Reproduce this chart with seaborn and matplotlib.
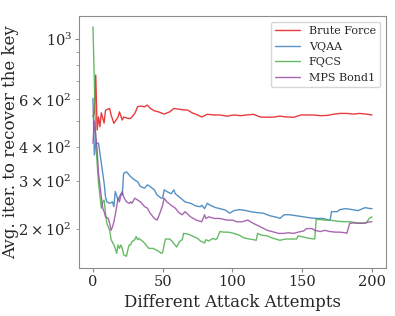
import pandas
import seaborn as sns
from matplotlib import pyplot as plt

# (attack attempt, avg iterations)
brute_force = [(0, 520), (1, 535), (2, 738), (3, 463), (4, 517), (5, 476), (6, 536), (8, 491),
               (9, 548), (12, 556), (13, 526), (15, 490), (18, 517), (19, 540), (21, 504),
               (22, 517), (25, 511), (27, 511), (30, 533), (32, 564), (34, 567), (37, 564),
               (39, 572), (41, 557), (44, 545), (47, 540), (51, 530), (55, 540), (58, 556),
               (63, 551), (68, 548), (71, 536), (75, 526), (78, 517), (82, 529), (87, 526),
               (91, 526), (96, 521), (101, 526), (106, 523), (110, 526), (115, 529), (120, 517),
               (125, 516), (130, 517), (134, 521), (139, 517), (144, 516), (149, 526), (153, 526),
               (158, 526), (163, 523), (168, 524), (172, 529), (177, 533), (182, 533), (187, 530),
               (191, 533), (196, 530), (200, 526)]

vqaa = [(0, 606), (1, 375), (2, 415), (4, 414), (6, 350), (7, 321), (8, 296), (9, 263), (10, 252),
        (12, 249), (14, 252), (15, 242), (16, 275), (18, 256), (19, 263), (20, 270), (21, 267),
        (22, 321), (24, 325), (25, 321), (27, 312), (30, 303), (32, 299), (34, 287), (37, 283),
        (39, 291), (41, 287), (44, 279), (46, 267), (49, 260), (50, 260), (51, 279), (53, 275),
        (56, 270), (58, 279), (59, 270), (63, 260), (66, 252), (70, 249), (74, 243), (77, 242),
        (78, 245), (80, 238), (82, 249), (84, 245), (88, 240), (91, 238), (95, 235), (98, 229),
        (101, 234), (105, 236), (108, 235), (113, 232), (118, 230), (122, 229), (127, 224),
        (132, 221), (134, 219), (137, 226), (141, 226), (146, 224), (151, 222), (156, 220),
        (161, 219), (165, 219), (169, 216), (170, 216), (171, 232), (175, 232), (177, 236),
        (181, 238), (186, 236), (190, 234), (195, 240), (199, 238), (200, 238)]

fqcs = [(0, 1110), (1, 700), (2, 414), (3, 349), (4, 295), (6, 239), (7, 252), (8, 256), (9, 229),
        (10, 210), (12, 198), (13, 183), (15, 175), (16, 170), (17, 163), (18, 175), (19, 170),
        (20, 175), (21, 170), (22, 161), (24, 159), (25, 168), (26, 175), (27, 175), (28, 180),
        (30, 183), (31, 188), (32, 183), (33, 185), (34, 183), (36, 180), (38, 175), (40, 170),
        (43, 170), (45, 168), (47, 166), (49, 163), (50, 164), (51, 175), (52, 184), (55, 184),
        (57, 180), (58, 177), (60, 172), (62, 180), (64, 183), (65, 193), (68, 192), (70, 190),
        (72, 188), (75, 185), (77, 181), (80, 178), (81, 183), (83, 181), (86, 185), (88, 183),
        (89, 185), (91, 196), (94, 195), (97, 195), (101, 193), (105, 190), (108, 186),
        (112, 184), (115, 183), (117, 182), (118, 193), (121, 190), (125, 189), (128, 186),
        (131, 184), (134, 182), (138, 184), (141, 184), (146, 184), (147, 189), (151, 187),
        (155, 185), (159, 184), (160, 217), (163, 217), (166, 216), (170, 216), (175, 214),
        (180, 213), (184, 213), (189, 211), (194, 210), (196, 211), (198, 219), (200, 222)]

mps_bond1 = [(0, 414), (1, 500), (2, 443), (3, 391), (4, 321), (6, 263), (7, 239), (8, 232),
             (9, 222), (11, 219), (12, 210), (13, 198), (14, 204), (15, 213), (16, 226), (17, 242),
             (18, 260), (19, 252), (20, 267), (21, 275), (22, 263), (24, 252), (26, 249), (27, 252),
             (28, 249), (30, 260), (32, 256), (34, 252), (37, 242), (39, 239), (41, 229), (44, 219),
             (46, 216), (47, 222), (50, 245), (51, 260), (53, 252), (56, 245), (59, 239), (62, 229),
             (64, 226), (66, 232), (70, 222), (74, 216), (78, 213), (80, 226), (81, 219), (83, 222),
             (87, 219), (91, 219), (96, 216), (100, 216), (103, 213), (107, 213), (111, 216),
             (115, 210), (120, 204), (125, 198), (130, 195), (133, 193), (137, 193), (140, 194),
             (144, 193), (147, 195), (151, 197), (153, 201), (157, 201), (159, 198), (163, 196),
             (166, 198), (170, 196), (174, 195), (177, 195), (181, 194), (182, 193), (184, 210),
             (187, 211), (191, 210), (195, 211), (199, 213), (200, 213)]

methods = ["Brute Force", "VQAA", "FQCS", "MPS Bond1"]
palette = ["#e41a1c", "#377eb8", "#4daf4a", "#984ea3"]

frames = []
for name, points in zip(methods, [brute_force, vqaa, fqcs, mps_bond1]):
    part = pandas.DataFrame(points, columns=["attempt", "iters"])
    part["method"] = name
    frames.append(part)
df = pandas.concat(frames, ignore_index=True)

sns.set_style("white")
plt.rcParams['font.family'] = ['DejaVu Serif']
plt.rcParams['mathtext.fontset'] = 'dejavuserif'

fig, ax = plt.subplots(figsize=(3.95, 3.16), dpi=100)
fig.subplots_adjust(left=0.2, right=0.977, bottom=0.152, top=0.949)

sns.lineplot(data=df, x="attempt", y="iters", hue="method", hue_order=methods, palette=palette,
             linewidth=1.0, alpha=0.85, ax=ax, estimator=None, sort=False)

ax.set_yscale("log")
ax.set_ylim(144, 1215)
ax.set_xlim(-10, 210)
ax.set_xticks([0, 50, 100, 150, 200])

for spine in ax.spines.values():
    spine.set_color("#8c8c8c")
ax.tick_params(axis="both", which="major", length=3, color="#8c8c8c", labelsize=10.5, pad=2)
ax.tick_params(axis="y", which="minor", length=2, color="#8c8c8c", labelsize=10.5, left=True)
ax.tick_params(axis="both", which="major", left=True, bottom=True)

ax.set_xlabel("Different Attack Attempts", fontsize=12)
ax.set_ylabel("Avg. iter. to recover the key", fontsize=12)
ax.yaxis.set_label_coords(-0.195, 0.5)

leg = ax.legend(loc="upper right", fontsize=8, frameon=True, handlelength=2.2)

fig.savefig("out.png")
